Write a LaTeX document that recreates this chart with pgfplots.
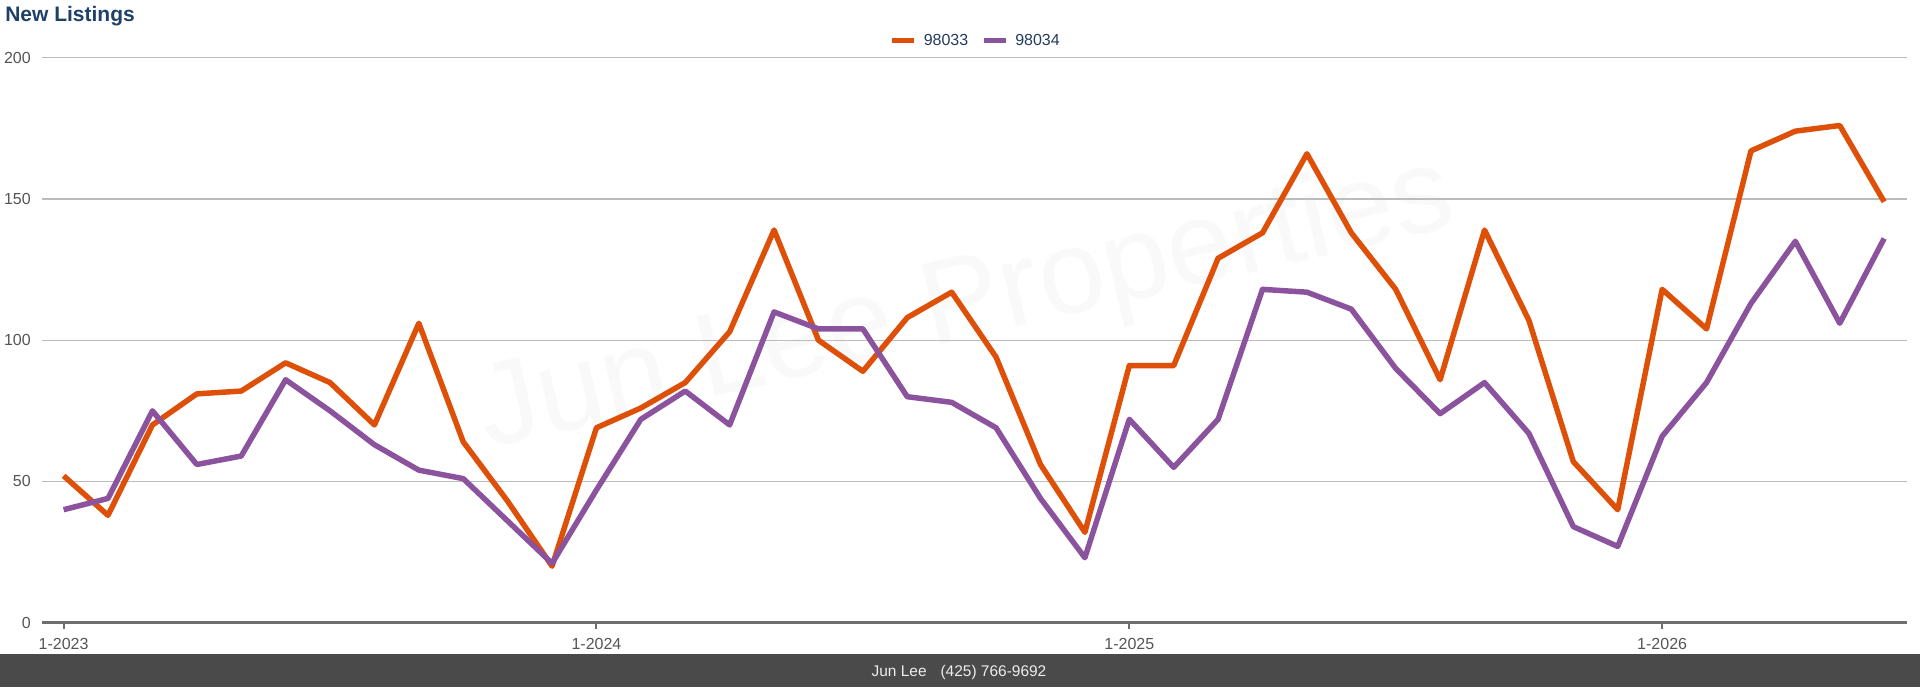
\documentclass[border=0pt]{standalone}
\usepackage{fontspec}
\setmainfont{Liberation Sans}
\usepackage{pgfplots}
\pgfplotsset{compat=1.18}
\definecolor{orangeA}{RGB}{222,79,8}
\definecolor{purpleA}{RGB}{139,82,158}
\definecolor{titleblue}{RGB}{31,65,104}
\definecolor{legblue}{RGB}{36,60,96}
\definecolor{gridgray}{RGB}{188,188,188}
\definecolor{axisgray}{RGB}{110,110,110}
\definecolor{ticklab}{RGB}{85,85,85}
\definecolor{footergray}{RGB}{74,74,74}
\pgfplotstableread{
i a b
0 52 40
1 38 44
2 70 75
3 81 56
4 82 59
5 92 86
6 85 75
7 70 63
8 106 54
9 64 51
10 43 36
11 20 21
12 69 47
13 76 72
14 85 82
15 103 70
16 139 110
17 100 104
18 89 104
19 108 80
20 117 78
21 94 69
22 56 44
23 32 23
24 91 72
25 91 55
26 129 72
27 138 118
28 166 117
29 138 111
30 118 90
31 86 74
32 139 85
33 107 67
34 57 34
35 40 27
36 118 66
37 104 85
38 167 113
39 174 135
40 176 106
41 149 136
}\datatable
\begin{document}
\begin{tikzpicture}
\path[fill=white] (0pt,0pt) rectangle (1440pt,515.25pt);
\fill[footergray] (0pt,0pt) rectangle (1440pt,24.75pt);
\node[anchor=base, inner sep=0pt, text=white!93!black, font=\fontsize{11.6}{13}\selectfont] at (719.25pt,8.25pt) {Jun Lee\hspace{0.9em}(425) 766-9692};
\node[anchor=base west, inner sep=0pt, text=titleblue, font=\fontsize{15.75}{18}\selectfont\bfseries] at (3.75pt,498.75pt) {New Listings};
\node[rotate=13, inner sep=0pt, text=black!2.5, font=\fontsize{89}{90}\selectfont] at (725pt,285pt) {Jun Lee Properties};
\begin{axis}[
  at={(31.725pt,48.225pt)}, anchor=south west,
  scale only axis, width=1398.75pt, height=423.75pt,
  xmin=-0.48, xmax=41.52, ymin=0, ymax=200,
  axis x line*=bottom, axis y line*=left,
  x axis line style={axisgray, line width=1.9pt, -},
  y axis line style={draw=none},
  ytick={0,50,100,150,200},
  ymajorgrids, grid style={gridgray, line width=0.9pt},
  xtick={0,12,24,36},
  xticklabels={1-2023,1-2024,1-2025,1-2026},
  tick align=outside, major tick length=4.5pt,
  x tick style={axisgray, line width=1.5pt},
  y tick style={draw=none},
  /pgf/number format/assume math mode=true,
  ticklabel style={font=\fontsize{12}{14}\selectfont, text=ticklab, inner sep=0pt},
  xticklabel style={yshift=-7pt},
  yticklabel style={xshift=-4pt},
  legend columns=2,
  legend style={at={(axis description cs:0.5,1.03)}, anchor=center, draw=none, fill=none,
    font=\fontsize{12}{14}\selectfont, text=legblue, inner sep=0pt,
    nodes={inner sep=0pt}, column sep=5.25pt,
    /tikz/every even column/.append style={column sep=9.75pt}},
  legend image code/.code={\draw[#1, line width=3.75pt] (0pt,0pt) -- (16.5pt,0pt);},
  clip=false,
]
\addplot[orangeA, line width=4.1pt, line join=round] table[x=i, y=a] {\datatable};
\addlegendentry{98033}
\addplot[purpleA, line width=4.1pt, line join=round] table[x=i, y=b] {\datatable};
\addlegendentry{98034}
\end{axis}
\end{tikzpicture}
\end{document}
